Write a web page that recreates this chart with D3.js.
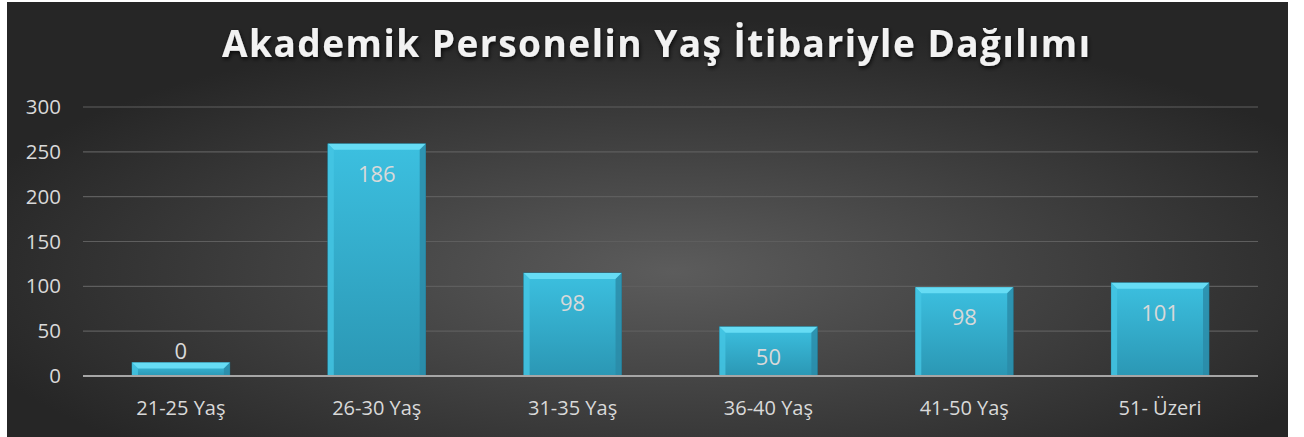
<!DOCTYPE html>
<html>
<head>
<meta charset="utf-8">
<script src="https://cdn.jsdelivr.net/npm/d3@7"></script>
<style>
  body { margin: 0; background: #fff; }
  svg { display: block; }
</style>
</head>
<body>
<div id="chart"></div>
<script>
// categories, drawn bar heights and the printed data labels
const categories = ["21-25 Yaş", "26-30 Yaş", "31-35 Yaş", "36-40 Yaş", "41-50 Yaş", "51- Üzeri"];
const barValues = [15, 259, 115, 55, 99, 104];
const labelValues = ["0", "186", "98", "50", "98", "101"];
const yTicks = [0, 50, 100, 150, 200, 250, 300];
const title = "Akademik Personelin Yaş İtibariyle Dağılımı";

const W = 1304, H = 437;
const font = "'Open Sans', sans-serif";

const svg = d3.select("#chart").append("svg")
  .attr("width", W)
  .attr("height", H);

const defs = svg.append("defs");

const bg = defs.append("radialGradient")
  .attr("id", "bg")
  .attr("cx", "52%").attr("cy", "62%")
  .attr("r", "58%");
bg.append("stop").attr("offset", "0%").attr("stop-color", "#5c5c5c");
bg.append("stop").attr("offset", "100%").attr("stop-color", "#262626");

const barGrad = defs.append("linearGradient")
  .attr("id", "barGrad")
  .attr("x1", 0).attr("y1", 0).attr("x2", 0).attr("y2", 1);
barGrad.append("stop").attr("offset", "0%").attr("stop-color", "#3cc0e0");
barGrad.append("stop").attr("offset", "100%").attr("stop-color", "#2b97b4");

const shadow = defs.append("filter").attr("id", "shadow")
  .attr("x", "-10%").attr("y", "-30%").attr("width", "120%").attr("height", "160%");
shadow.append("feDropShadow")
  .attr("dx", 1).attr("dy", 2).attr("stdDeviation", 2)
  .attr("flood-color", "#000").attr("flood-opacity", 0.8);

// background panel
svg.append("rect")
  .attr("x", 7).attr("y", 2)
  .attr("width", 1281).attr("height", H - 2)
  .attr("fill", "url(#bg)");

const x = d3.scaleBand()
  .domain(categories)
  .range([83, 1258])
  .paddingInner(0.5)
  .paddingOuter(0.25);

const y = d3.scaleLinear()
  .domain([0, 300])
  .range([376, 107]);

// gridlines
svg.append("g")
  .selectAll("line")
  .data(yTicks.filter(d => d > 0))
  .join("line")
  .attr("x1", 83).attr("x2", 1258)
  .attr("y1", d => y(d)).attr("y2", d => y(d))
  .attr("stroke", "#5e5e5e")
  .attr("stroke-width", 1.2);

// y axis labels
const yAxis = svg.append("g")
  .attr("transform", "translate(61,0)")
  .call(d3.axisLeft(y).tickValues(yTicks).tickSize(0).tickPadding(0));
yAxis.select(".domain").remove();
yAxis.selectAll("text")
  .attr("fill", "#d9d9d9")
  .attr("font-family", font)
  .attr("font-size", 20.5);

// bars
const bev = 6;
const bars = svg.append("g")
  .selectAll("g")
  .data(categories)
  .join("g");

bars.append("rect")
  .attr("x", d => x(d))
  .attr("y", (d, i) => y(barValues[i]))
  .attr("width", x.bandwidth())
  .attr("height", (d, i) => y(0) - y(barValues[i]))
  .attr("fill", "url(#barGrad)")
  .attr("stroke", "#1f6f86")
  .attr("stroke-width", 0.6);

// bevel: top light, sides a touch darker
bars.append("path")
  .attr("d", (d, i) => {
    const x0 = x(d), x1 = x(d) + x.bandwidth(), t = y(barValues[i]);
    return `M${x0},${t}L${x1},${t}L${x1 - bev},${t + bev}L${x0 + bev},${t + bev}Z`;
  })
  .attr("fill", "#66dcf4");
bars.append("path")
  .attr("d", (d, i) => {
    const x0 = x(d), t = y(barValues[i]), b = y(0);
    return `M${x0},${t}L${x0 + bev},${t + bev}L${x0 + bev},${b}L${x0},${b}Z`;
  })
  .attr("fill", "#45c6e4")
  .attr("opacity", 0.8);
bars.append("path")
  .attr("d", (d, i) => {
    const x1 = x(d) + x.bandwidth(), t = y(barValues[i]), b = y(0);
    return `M${x1},${t}L${x1 - bev},${t + bev}L${x1 - bev},${b}L${x1},${b}Z`;
  })
  .attr("fill", "#2a8aa6")
  .attr("opacity", 0.8);

// data labels
bars.append("text")
  .attr("x", d => x(d) + x.bandwidth() / 2)
  .attr("y", (d, i) => i === 0 ? y(barValues[i]) - 4 : y(barValues[i]) + 38)
  .attr("text-anchor", "middle")
  .attr("fill", "#d9d9d9")
  .attr("font-family", font)
  .attr("font-size", 22)
  .text((d, i) => labelValues[i]);

// x axis line
svg.append("line")
  .attr("x1", 83).attr("x2", 1258)
  .attr("y1", y(0)).attr("y2", y(0))
  .attr("stroke", "#a6a6a6")
  .attr("stroke-width", 2.2);

// x axis labels
svg.append("g")
  .selectAll("text")
  .data(categories)
  .join("text")
  .attr("x", d => x(d) + x.bandwidth() / 2)
  .attr("y", 415)
  .attr("text-anchor", "middle")
  .attr("fill", "#d9d9d9")
  .attr("font-family", font)
  .attr("font-size", 20)
  .text(d => d);

// title
svg.append("text")
  .attr("x", 656)
  .attr("y", 57)
  .attr("text-anchor", "middle")
  .attr("fill", "#f2f2f2")
  .attr("font-family", font)
  .attr("font-weight", "bold")
  .attr("font-size", 37)
  .attr("textLength", 868)
  .attr("lengthAdjust", "spacing")
  .attr("filter", "url(#shadow)")
  .text(title);
</script>
</body>
</html>
